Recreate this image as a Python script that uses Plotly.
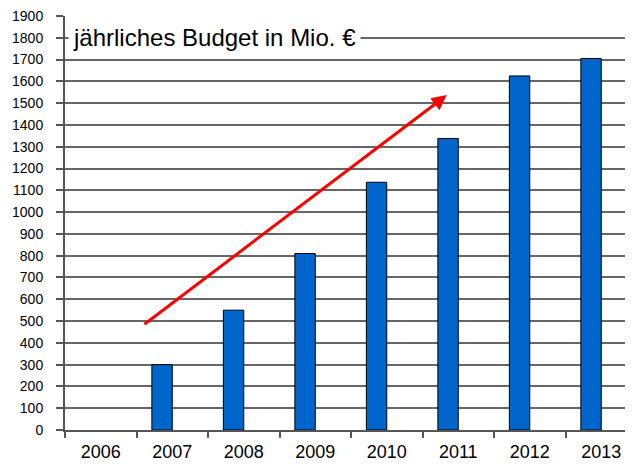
import plotly.graph_objects as go

years = ["2006", "2007", "2008", "2009", "2010", "2011", "2012", "2013"]
budget = [0, 300, 550, 810, 1137, 1338, 1625, 1705]
y_ticks = list(range(0, 2000, 100))
title_text = "jährliches Budget in Mio. €"
arrow_start = (0.59, 480)
arrow_end = (4.84, 1537)

fig = go.Figure()
fig.add_trace(go.Bar(
    x=years, y=budget,
    marker=dict(color="#0066CC",
                line=dict(color="#000000", width=[0 if v == 0 else 1 for v in budget])),
    width=0.285, offset=-0.285,
))

fig.add_annotation(
    x=arrow_end[0], y=arrow_end[1], ax=arrow_start[0], ay=arrow_start[1],
    xref="x", yref="y", axref="x", ayref="y",
    showarrow=True, arrowhead=2, arrowsize=1.0, arrowwidth=3, arrowcolor="#FF0000",
    text="",
)
fig.add_annotation(
    x=0.006, y=1800, xref="paper", yref="y", xanchor="left", yanchor="middle",
    text=title_text, showarrow=False, bgcolor="white",
    font=dict(family="Liberation Sans, Arial", size=24, color="#000000"),
    borderpad=4,
)

fig.update_layout(
    width=633, height=466,
    margin=dict(l=57, r=4, t=8, b=44, autoexpand=False),
    paper_bgcolor="white", plot_bgcolor="white",
    showlegend=False,
    font=dict(family="Liberation Sans, Arial", color="#000000"),
)
fig.update_xaxes(
    type="category", tickson="boundaries", ticks="outside", ticklen=6,
    tickcolor="#555555", tickwidth=1.5,
    showline=True, linecolor="#555555", linewidth=2,
    showgrid=False, tickfont=dict(size=18), ticklabelstandoff=4,
    range=[-0.5, 7.5], automargin=False,
)
fig.update_yaxes(
    range=[0, 1900], tickvals=y_ticks, ticks="outside", ticklen=7,
    tickcolor="#555555", tickwidth=1.5,
    showline=True, linecolor="#555555", linewidth=2,
    showgrid=True, gridcolor="#666666", gridwidth=1.5,
    tickfont=dict(size=14), zeroline=False, ticklabelstandoff=10,
    ticklabeloverflow="allow", automargin=False,
)

fig.write_html("out.html")
